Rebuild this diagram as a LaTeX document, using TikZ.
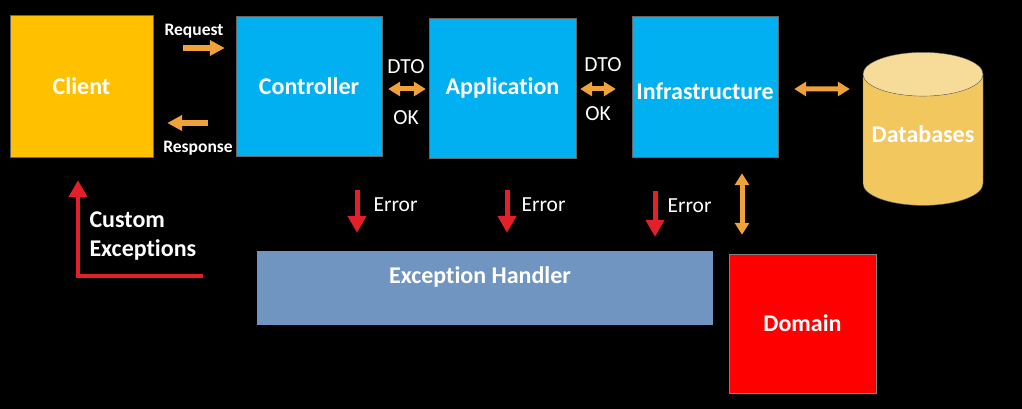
\documentclass[tikz,border=0pt]{standalone}
\usepackage{fontspec}
\setmainfont{Carlito}[Ligatures=CommonOff]
\usepackage{xcolor}
\usetikzlibrary{arrows.meta, positioning, shapes.geometric, calc}

\definecolor{clientyellow}{HTML}{FFC000}
\definecolor{layerblue}{HTML}{00B0F0}
\definecolor{handlerblue}{HTML}{7095C1}
\definecolor{domainred}{HTML}{FF0000}
\definecolor{dbbody}{HTML}{F2C75E}
\definecolor{dbtop}{HTML}{F7DB98}
\definecolor{arrorange}{HTML}{EFA23A}
\definecolor{arrred}{HTML}{E3202A}

\begin{document}
\begin{tikzpicture}[
  x=1pt, y=-1pt,
  font=\fontsize{21}{25}\selectfont,
  layer/.style={draw=black!60, minimum width=146pt, minimum height=140pt, align=center, text=white, font=\fontsize{24}{28}\selectfont\bfseries},
  small/.style={text=white, font=\fontsize{17.5}{20}\selectfont\bfseries},
  plain/.style={text=white, font=\fontsize{21.5}{25}\selectfont},
  oarr/.style={-{Triangle[length=15pt, width=15pt]}, line width=6pt, draw=arrorange},
  darr/.style={{Triangle[length=12pt, width=14pt]}-{Triangle[length=12pt, width=14pt]}, line width=5pt, draw=arrorange},
  rarr/.style={-{Triangle[length=17pt, width=18pt]}, line width=5pt, draw=arrred},
]

% background
\fill[black] (0,0) rectangle (1022,409);
\useasboundingbox (0,0) rectangle (1022,409);

% Layers
\node[layer, fill=clientyellow, minimum width=143pt, minimum height=142pt] (client) at (81.5, 86) {Client};
\node[layer, fill=layerblue] (controller) at (309, 86) {Controller};
\node[layer, fill=layerblue, minimum width=147pt] (application) at (502.5, 88) {Application};
\node[layer, fill=layerblue, minimum height=141pt, text height=26pt] (infra) at (705, 86.5) {Infrastructure};

% Database
\node[cylinder, shape border rotate=90, aspect=0.4, draw=black!60, cylinder uses custom fill, cylinder body fill=dbbody, cylinder end fill=dbtop, minimum width=120pt, minimum height=153pt, text depth=18pt, text=white, font=\fontsize{24}{28}\selectfont\bfseries] (db) at (923, 143.5) {Databases};

% Exception handler and domain
\node[fill=handlerblue, minimum width=456pt, minimum height=74pt] (handler) at (485, 288) {};
\node[text=white, font=\fontsize{24}{28}\selectfont\bfseries] (handlertext) at ([shift={(-5,-11)}]handler.center) {Exception Handler};
\node[layer, fill=domainred, draw=black!50, minimum width=147pt, minimum height=139pt] (domain) at (802.5, 323.5) {Domain};

% Request / Response
\draw[oarr] ([shift={(30,-38)}]client.east) -- ([shift={(-11,-38)}]controller.west);
\draw[oarr] ([shift={(-28,37)}]controller.west) -- ([shift={(14,37)}]client.east);
\node[small] (request) at (194, 31) {Request};
\node[small] (response) at (198, 148) {Response};

% DTO / OK
\draw[darr] ([shift={(6,3)}]controller.east) -- ([shift={(-3,1)}]application.west);
\node[plain] (dto1) at (406, 67) {DTO};
\node[plain] (ok1) at (406, 118) {OK};
\draw[darr] ([shift={(4,1)}]application.east) -- ([shift={(-16,2.5)}]infra.west);
\node[plain] (dto2) at (603, 65) {DTO};
\node[plain] (ok2) at (598, 114) {OK};

% Infrastructure to databases and domain
\draw[darr] ([shift={(16,2.5)}]infra.east) -- ([shift={(-13,-54.5)}]db.west);
\draw[darr] ([shift={(37,16)}]infra.south) -- ([shift={(-60.5,-19)}]domain.north);

% Errors
\coordinate (e1) at ([shift={(48,34)}]controller.south);
\coordinate (e2) at ([shift={(4.5,32)}]application.south);
\coordinate (e3) at ([shift={(-50,34)}]infra.south);
\draw[rarr, shorten >=18pt] (e1) -- (e1 |- handler.north);
\node[plain, anchor=west] (err1) at (370, 205) {Error};
\draw[rarr, shorten >=18pt] (e2) -- (e2 |- handler.north);
\node[plain, anchor=west] (err2) at (518, 205) {Error};
\draw[rarr, shorten >=14pt] (e3) -- (e3 |- handler.north);
\node[plain, anchor=west] (err3) at (664, 206) {Error};

% Custom exceptions
\coordinate (cstart) at (203, 276);
\draw[rarr, line width=4.5pt] (cstart) -| ([shift={(-3.5,23)}]client.south);
\node[text=white, font=\fontsize{24}{29}\selectfont\bfseries, align=left, anchor=west] (custom) at (86, 236) {Custom\\Exceptions};

\end{tikzpicture}
\end{document}
